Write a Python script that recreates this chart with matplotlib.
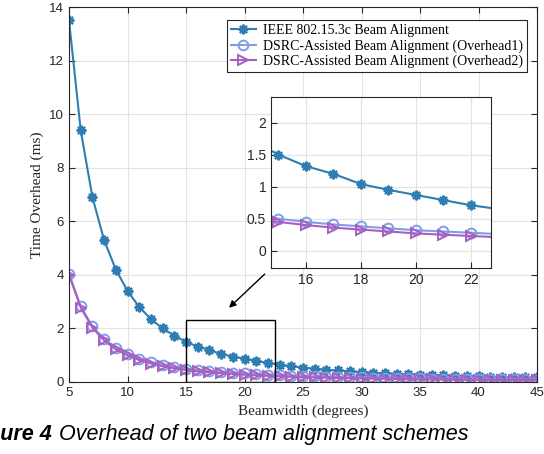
import matplotlib.pyplot as plt
from matplotlib.patches import Rectangle

# beamwidth (degrees)
beamwidth = list(range(5, 46))

# time overhead (ms)
ieee = [13.5, 9.4, 6.9, 5.3, 4.2, 3.4, 2.8, 2.35, 2.0, 1.73,
        1.5, 1.32, 1.2, 1.04, 0.95, 0.87, 0.79, 0.71, 0.65, 0.59,
        0.54, 0.5, 0.46, 0.43, 0.40, 0.38, 0.35, 0.33, 0.31, 0.29,
        0.28, 0.26, 0.25, 0.24, 0.22, 0.21, 0.20, 0.19, 0.18, 0.17, 0.17]
dsrc1 = [4.05, 2.82, 2.08, 1.6, 1.27, 1.04, 0.87, 0.74, 0.64, 0.56,
         0.5, 0.45, 0.41, 0.38, 0.35, 0.32, 0.30, 0.28, 0.26, 0.24,
         0.22, 0.21, 0.20, 0.19, 0.18, 0.17, 0.16, 0.155, 0.15, 0.14,
         0.135, 0.13, 0.125, 0.12, 0.115, 0.11, 0.105, 0.10, 0.098, 0.095, 0.09]
dsrc2 = [4.0, 2.78, 2.03, 1.55, 1.22, 0.99, 0.82, 0.69, 0.59, 0.51,
         0.45, 0.4, 0.36, 0.33, 0.3, 0.27, 0.25, 0.23, 0.21, 0.195,
         0.18, 0.17, 0.16, 0.15, 0.14, 0.13, 0.125, 0.12, 0.11, 0.105,
         0.10, 0.095, 0.09, 0.088, 0.085, 0.08, 0.078, 0.075, 0.072, 0.07, 0.068]

labels = ['IEEE 802.15.3c Beam Alignment',
          'DSRC-Assisted Beam Alignment (Overhead1)',
          'DSRC-Assisted Beam Alignment (Overhead2)']
colors = ['#2E7DB3', '#7F9EE6', '#A85FC0']

plt.rcParams['font.family'] = ['Liberation Sans', 'DejaVu Sans']
serif = 'Liberation Serif'

fig = plt.figure(figsize=(5.44, 4.54), dpi=100)
ax = fig.add_axes([69 / 544, 1 - 382 / 454, 468 / 544, 375 / 454])


def draw(a, ms):
    a.plot(beamwidth, ieee, color=colors[0], lw=1.5, marker=(8, 2, 0),
           ms=ms, mew=1.5, label=labels[0])
    a.plot(beamwidth, dsrc1, color=colors[1], lw=1.5, marker='o',
           ms=ms, mfc='none', mew=1.4, label=labels[1])
    a.plot(beamwidth, dsrc2, color=colors[2], lw=1.5, marker='>',
           ms=ms, mfc='none', mew=1.4, label=labels[2])
    a.grid(True, color='#E3E3E3', lw=0.8)
    a.set_axisbelow(True)
    a.tick_params(direction='in', top=True, right=True, labelsize=9.5,
                  colors='#262626', length=4)
    for s in a.spines.values():
        s.set_color('#262626')
        s.set_linewidth(0.8)


draw(ax, 7)
ax.set_xlim(5, 45)
ax.set_ylim(0, 14)
ax.set_xticks(range(5, 46, 5))
ax.set_yticks(range(0, 15, 2))
ax.set_xlabel('Beamwidth (degrees)', family=serif, fontsize=11, color='#262626')
ax.set_ylabel('Time Overhead (ms)', family=serif, fontsize=11, color='#262626')
leg = ax.legend(loc='upper right', bbox_to_anchor=(1 - 10 / 468, 1 - 13 / 375),
                borderaxespad=0, prop={'family': serif, 'size': 10},
                fancybox=False, edgecolor='#262626', framealpha=1,
                borderpad=0.3, labelspacing=0.15, handlelength=1.8,
                handletextpad=0.5)
leg.get_frame().set_linewidth(0.8)

# zoom box and arrow
ax.add_patch(Rectangle((15, 0), 7.6, 2.3, fill=False, ec='black', lw=1.0, zorder=5))
ax.annotate('', xy=(18.5, 2.7), xytext=(21.9, 4.1),
            arrowprops=dict(arrowstyle='-|>', color='black', lw=1.0))

# inset
ins = fig.add_axes([271 / 544, 1 - 268 / 454, 220 / 544, 171 / 454])
draw(ins, 7)
ins.set_xlim(14.73, 22.73)
ins.set_ylim(-0.27, 2.4)
ins.set_xticks([16, 18, 20, 22])
ins.set_yticks([0, 0.5, 1, 1.5, 2])
ins.set_yticklabels(['0', '0.5', '1', '1.5', '2'])
ins.tick_params(top=False, right=False, labelsize=10)

# caption (left part cut off as in the source)
cap1 = fig.text(-0.058, 0.03, 'Figure 4', fontsize=15.5, fontweight='bold',
                fontstyle='italic', ha='left', va='baseline')
fig.canvas.draw()
bb = cap1.get_window_extent().transformed(fig.transFigure.inverted())
fig.text(bb.x1 + 0.012, 0.03, 'Overhead of two beam alignment schemes',
         fontsize=15.5, fontstyle='italic', ha='left', va='baseline')

fig.savefig('out.png', dpi=100)
